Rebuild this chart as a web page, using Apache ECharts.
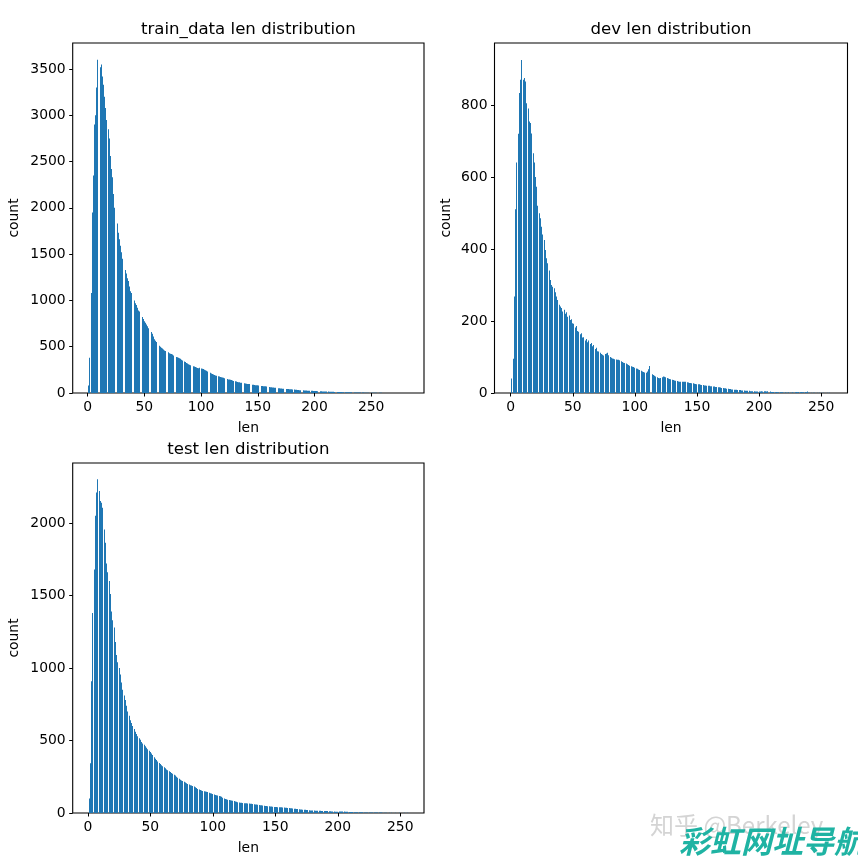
<!DOCTYPE html>
<html>
<head>
<meta charset="utf-8">
<script src="https://cdn.jsdelivr.net/npm/echarts@6/dist/echarts.min.js"></script>
<style>
html,body{margin:0;padding:0;background:#fff;}
#chart{width:858px;height:863px;}
</style>
</head>
<body>
<div id="chart"></div>
<script>
// ---- data: counts per length (length starts at *Start) ----
var trainStart = 1;
var trainCounts = [
80,380,1080,1950,2350,2900,3000,3300,3600,3570,
3520,3550,3420,3330,3200,3080,2950,2850,2750,2560,
2420,2330,2150,2000,1920,1830,1730,1660,1590,1520,
1450,1390,1330,1290,1240,1210,1150,1100,1080,1030,
1000,970,950,920,890,880,850,820,800,775,
760,740,720,700,680,660,640,610,580,565,
550,530,510,500,490,480,470,460,455,450,
440,430,425,420,415,405,400,390,385,380,
375,370,360,350,340,335,325,320,310,305,
300,295,290,285,280,275,270,268,272,265,
262,258,250,245,240,232,225,220,212,205,
200,195,190,185,182,178,174,170,168,165,
160,155,150,147,145,142,140,135,130,127,
123,120,117,115,112,110,107,104,102,100,
98,97,96,93,90,88,87,85,84,83,
80,78,76,75,74,73,72,71,68,66,
63,61,60,59,58,56,54,52,50,49,
48,47,46,45,44,43,42,41,40,40,
39,37,36,34,33,32,31,30,29,29,
28,27,26,25,24,24,23,23,22,22,
21,21,20,19,18,18,17,17,16,16,
15,15,14,14,14,13,13,12,12,11,
11,10,10,10,9,9,9,8,8,8,
8,7,7,7,6,6,6,6,5,5,
5,5,5,4,4,4,4,4,3,3,
3,3,3,2,2,2,2,2,2,1,
1,1,0,1,0,1,0,1,0,0,
1,0,0,1,0,0,0,1,0,0,
0,1
];
var devStart = 1;
var devCounts = [
40,95,268,510,640,720,833,870,925,870,
875,865,805,790,754,750,721,666,640,600,
573,520,499,485,462,440,425,397,374,360,
340,314,300,295,291,280,268,258,245,240,
236,226,231,220,224,212,215,203,205,194,
192,182,186,172,170,163,166,154,155,146,
150,141,146,136,139,130,133,122,126,116,
115,112,108,106,104,108,110,112,105,100,
98,96,95,94,93,92,92,91,88,86,
84,83,82,80,78,76,74,73,72,70,
68,67,65,64,62,60,58,57,56,60,
66,75,58,52,50,48,46,44,42,41,
42,44,46,45,44,42,40,39,38,37,
36,35,34,33,32,31,31,31,31,31,
31,30,29,28,28,27,27,26,25,24,
24,24,23,22,22,21,21,20,20,20,
19,19,18,18,17,17,16,16,15,14,
14,13,13,12,12,11,11,10,10,9,
9,9,8,8,8,7,7,7,6,6,
6,6,5,5,5,5,4,4,4,4,
4,5,4,5,5,4,5,5,4,3,
3,3,2,3,2,2,2,2,2,1,
2,1,1,2,1,1,2,1,2,3,
2,3,2,3,2,2,3,2,4,1,
1,1,0,1,1,0,1,0,1,1,
0,1,0,0,1,0,1
];
var testStart = 1;
var testCounts = [
100,343,908,1380,1680,2050,2210,2302,2221,2152,
2140,2106,1956,1864,1720,1660,1600,1510,1390,1330,
1280,1180,1090,1040,1000,955,900,850,810,780,
740,700,670,640,620,600,580,560,545,530,
515,505,490,480,470,460,450,440,430,420,
410,400,385,375,365,355,345,338,330,322,
315,308,300,294,288,282,276,270,264,258,
250,243,236,230,225,220,215,210,205,200,
196,192,189,186,182,178,172,166,162,158,
155,152,150,148,147,144,140,137,134,131,
128,125,122,120,118,116,112,106,100,96,
94,92,90,88,86,85,83,80,77,74,
72,71,70,69,68,67,67,66,65,64,
63,62,60,59,58,57,55,54,53,51,
50,49,48,47,46,45,44,43,42,41,
41,40,40,39,39,38,38,37,37,35,
34,33,32,31,30,29,28,27,26,25,
24,23,22,22,21,20,19,18,18,17,
17,16,16,15,15,15,14,14,14,14,
14,13,12,12,11,10,10,9,9,9,
10,10,11,11,10,9,8,8,7,7,
7,7,6,6,6,5,5,5,5,5,
4,4,4,4,4,4,4,4,4,4,
4,3,3,3,3,2,1,1,1,0,
1,0,1,0,0,1,0,0,1,0,
0,0,1,0,0,1
];
var titles = ['train_data len distribution', 'dev len distribution', 'test len distribution'];
var xTicks = [0, 50, 100, 150, 200, 250];
var yTicksTrain = [0, 500, 1000, 1500, 2000, 2500, 3000, 3500];
var yTicksDev = [0, 200, 400, 600, 800];
var yTicksTest = [0, 500, 1000, 1500, 2000];
var xLabel = 'len', yLabel = 'count';

// ---- layout ----
var FONT = 'DejaVu Sans';
var BLUE = '#1f77b4';
var panels = [
  {left: 72.7, top: 43, width: 351.3, height: 350, xmin: -13.2, xmax: 296.6, ymax: 3781, yTicks: yTicksTrain, start: trainStart, counts: trainCounts, nameGap: 51},
  {left: 494.5, top: 43, width: 353, height: 350, xmin: -13.0, xmax: 271.2, ymax: 972, yTicks: yTicksDev, start: devStart, counts: devCounts, nameGap: 41},
  {left: 72.7, top: 463, width: 351.3, height: 350, xmin: -12.1, xmax: 269.0, ymax: 2414, yTicks: yTicksTest, start: testStart, counts: testCounts, nameGap: 51}
];

function toData(start, counts) {
  var out = [];
  for (var i = 0; i < counts.length; i++) out.push([start + i, counts[i]]);
  return out;
}

function renderBar(params, api) {
  var x = api.value(0), y = api.value(1);
  var p0 = api.coord([x - 0.4, y]);
  var p1 = api.coord([x + 0.4, 0]);
  var x0 = Math.round(p0[0]), x1 = Math.round(p1[0]);
  var w = x1 - x0;
  if (w < 1) return null;
  return {
    type: 'rect',
    shape: {x: x0, y: p0[1], width: w, height: p1[1] - p0[1]},
    style: {fill: BLUE}
  };
}

function plainNum(v) { return String(Math.round(v)); }

var grids = [], xAxes = [], yAxes = [], series = [], graphics = [];
panels.forEach(function (p, i) {
  grids.push({left: p.left, top: p.top, width: p.width, height: p.height,
    show: true, borderColor: '#000', borderWidth: 1.1, backgroundColor: 'transparent', containLabel: false});
  xAxes.push({
    type: 'value', gridIndex: i, min: p.xmin, max: p.xmax,
    axisLine: {show: false, onZero: false},
    axisTick: {show: true, length: 3.5, inside: false, lineStyle: {color: '#000', width: 1}, customValues: xTicks},
    axisLabel: {show: true, margin: 7, color: '#000', fontFamily: FONT, fontSize: 13.9, customValues: xTicks, formatter: plainNum},
    splitLine: {show: false},
    name: xLabel, nameLocation: 'middle', nameGap: 28.5,
    nameTextStyle: {color: '#000', fontFamily: FONT, fontSize: 13.9}
  });
  yAxes.push({
    type: 'value', gridIndex: i, min: 0, max: p.ymax,
    axisLine: {show: false, onZero: false},
    axisTick: {show: true, length: 3.5, inside: false, lineStyle: {color: '#000', width: 1}, customValues: p.yTicks},
    axisLabel: {show: true, margin: 7, color: '#000', fontFamily: FONT, fontSize: 13.9, customValues: p.yTicks, formatter: plainNum},
    splitLine: {show: false},
    name: yLabel, nameLocation: 'middle', nameGap: p.nameGap, nameRotate: 90,
    nameTextStyle: {color: '#000', fontFamily: FONT, fontSize: 13.9}
  });
  series.push({
    type: 'custom', xAxisIndex: i, yAxisIndex: i,
    renderItem: renderBar, encode: {x: 0, y: 1},
    data: toData(p.start, p.counts), clip: true, silent: true
  });
  graphics.push({
    type: 'text', x: p.left + p.width / 2, y: p.top - 13,
    style: {text: titles[i], fill: '#000', fontFamily: FONT, fontSize: 16.6,
      textAlign: 'center', align: 'center', textVerticalAlign: 'middle', verticalAlign: 'middle'}
  });
});

// watermark texts
graphics.push({
  type: 'text', x: 650, y: 825,
  style: {text: '知乎 @Berkeley', fill: '#d4d4d4', fontFamily: 'Noto Sans CJK SC', fontSize: 24,
    textAlign: 'left', align: 'left', textVerticalAlign: 'middle', verticalAlign: 'middle'}
});
graphics.push({
  type: 'text', x: 679, y: 841,
  style: {text: '彩虹网址导航', fill: '#1fb3a3', fontFamily: 'Noto Sans CJK SC', fontSize: 31, fontWeight: 'bold',
    fontStyle: 'italic', textAlign: 'left', align: 'left', textVerticalAlign: 'middle', verticalAlign: 'middle'}
});

var chart = echarts.init(document.getElementById('chart'), null, {renderer: 'canvas'});
chart.setOption({
  animation: false,
  backgroundColor: '#fff',
  grid: grids, xAxis: xAxes, yAxis: yAxes, series: series,
  graphic: graphics
});
</script>
</body>
</html>
